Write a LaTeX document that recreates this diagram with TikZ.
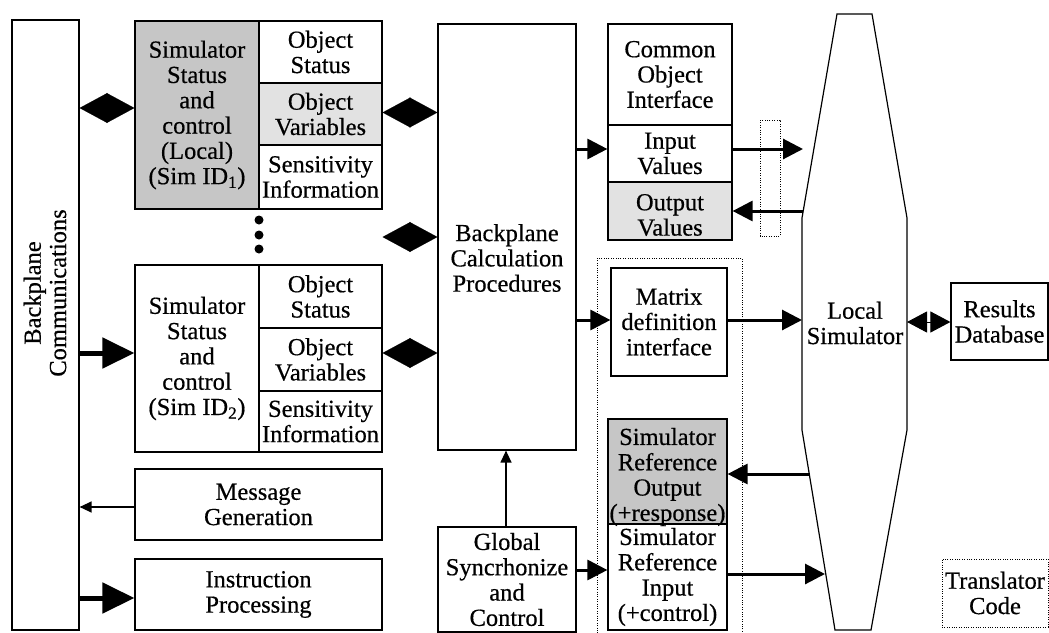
\documentclass[tikz,border=0pt]{standalone}
\usepackage{fontspec}
\setmainfont{Liberation Serif}[FakeBold=0.5]
\usetikzlibrary{arrows.meta}
\newcommand\diagfont{\fontsize{24.5pt}{25.3pt}\selectfont}
\definecolor{shadeA}{HTML}{C6C6C6}
\definecolor{shadeB}{HTML}{E2E2E2}
\begin{document}
\begin{tikzpicture}[x=1pt,y=-1pt,
  box/.style={draw,line width=1.2pt,inner sep=0pt,align=center,font=\diagfont},
  txt/.style={inner sep=0pt,align=center,font=\diagfont},
  dotbox/.style={draw,line width=0.8pt,dash pattern=on 1pt off 1.4pt},
  bigarrow/.style={line width=5pt,-{Triangle[length=32pt,width=30pt]}},
  medarrow/.style={line width=3pt,-{Triangle[length=20pt,width=20pt]}},
  thinarrow/.style={line width=1.3pt,-{Triangle[length=12pt,width=11pt]}},
  diam/.style={line width=0.1pt,{Triangle[length=27.8pt,width=30pt]}-{Triangle[length=27.8pt,width=30pt]}},
  smalldiam/.style={line width=1pt,{Triangle[length=20pt,width=21pt]}-{Triangle[length=20pt,width=21pt]}}]
\useasboundingbox (0,0) rectangle (1049,632);

% Backplane communications bus
\node[box,minimum width=67pt,minimum height=610pt] (bpcom) at (45.5,325) {};
\node[txt,rotate=90] (bpcomtxt) at (45,293) {Backplane\\Communications};

% Simulator 1
\node[box,fill=shadeA,minimum width=124pt,minimum height=188pt] (s1ctl) at (197,115)
  {Simulator\\Status\\and\\control\\(Local)\\(Sim ID\textsubscript{1})};
\node[box,minimum width=123pt,minimum height=62pt] (s1st) at (320.5,52) {Object\\Status};
\node[box,fill=shadeB,minimum width=123pt,minimum height=62pt] (s1var) at (320.5,114) {Object\\Variables};
\node[box,minimum width=123pt,minimum height=64pt] (s1sen) at (320.5,177) {Sensitivity\\Information};

% ellipsis between simulators
\foreach \yy in {220,235,249} \fill (259,\yy) circle (4.5pt);

% Simulator 2
\node[box,minimum width=124pt,minimum height=187pt] (s2ctl) at (197,358.5)
  {Simulator\\Status\\and\\control\\(Sim ID\textsubscript{2})};
\node[box,minimum width=123pt,minimum height=63pt] (s2st) at (320.5,296.5) {Object\\Status};
\node[box,minimum width=123pt,minimum height=63pt] (s2var) at (320.5,359.5) {Object\\Variables};
\node[box,minimum width=123pt,minimum height=61pt] (s2sen) at (320.5,421.5) {Sensitivity\\Information};

% Message and instruction handling
\node[box,minimum width=247pt,minimum height=71pt] (msg) at (258.5,504.5) {Message\\Generation};
\node[box,minimum width=247pt,minimum height=71pt] (instr) at (258.5,594.5) {Instruction\\Processing};

% Backplane calculation
\node[box,minimum width=138pt,minimum height=426pt] (bcp) at (507,237) {};
\node[txt] (bcptxt) at (507,258) {Backplane\\Calculation\\Procedures};
\node[box,minimum width=138pt,minimum height=105pt] (glob) at (507,579.5) {Global\\Syncrhonize\\and\\Control};

% Common object interface
\node[box,minimum width=124pt,minimum height=101pt] (coi) at (670,74.5) {Common\\Object\\Interface};
\node[box,minimum width=124pt,minimum height=57pt] (inval) at (670,153.5) {Input\\Values};
\node[box,fill=shadeB,minimum width=124pt,minimum height=58pt] (outval) at (670,211) {};
\node[txt] (outvaltxt) at (670,215) {Output\\Values};
\draw[dotbox] (760,120) rectangle (780,236);

% Matrix / reference interfaces
\draw[dotbox] (597,258) rectangle (742,640);
\node[box,minimum width=116pt,minimum height=108pt] (matrix) at (669,322) {Matrix\\definition\\interface};
\node[box,fill=shadeA,minimum width=119pt,minimum height=105pt] (sro) at (667.5,471.5) {};
\node[txt] (srotxt) at (667.5,477) {Simulator\\Reference\\Output\\(+response)};
\node[box,minimum width=119pt,minimum height=106pt] (sri) at (667.5,577) {Simulator\\Reference\\Input\\(+control)};

% Local simulator
\draw[line width=1.2pt] (837,14) -- (872,14) -- (907,218) -- (907,430) -- (871,630)
  -- (835,630) -- (802,430) -- (802,218) -- cycle;
\node[txt] (lsim) at (855,323) {Local\\Simulator};
\coordinate (lsIn) at (803,149);
\coordinate (lsOut) at (803,211);
\coordinate (lsMat) at (802,320);
\coordinate (lsRefOut) at (809,474);
\coordinate (lsRefIn) at (825,574);
\coordinate (lsEast) at (907,322);

% Results and translator
\node[box,minimum width=97pt,minimum height=77pt] (res) at (999.5,321.5) {Results\\Database};
\node[box,dotbox,minimum width=106pt,minimum height=68pt] (trans) at (995,593) {Translator\\Code};

% Bidirectional links
\draw[diam] (bpcom.east |- 0,108) -- (s1ctl.west |- 0,108);
\draw[diam] (s1var.east |- 0,112.5) -- (bcp.west |- 0,112.5);
\draw[diam] (s1sen.east |- 0,237) -- (bcp.west |- 0,237);
\draw[diam] (s2var.east |- 0,353) -- (bcp.west |- 0,353);
\draw[smalldiam] (lsEast) -- (res.west |- lsEast);

% Directed links
\draw[bigarrow] (bpcom.east |- 0,353) -- (s2ctl.west |- 0,353);
\draw[thinarrow] (msg.west |- 0,507) -- (bpcom.east |- 0,507);
\draw[bigarrow] (bpcom.east |- 0,598) -- (instr.west |- 0,598);
\draw[medarrow] (bcp.east |- 0,149) -- (inval.west |- 0,149);
\draw[medarrow] (inval.east |- lsIn) -- (lsIn);
\draw[medarrow] (lsOut) -- (outval.east |- lsOut);
\draw[medarrow] (bcp.east |- lsMat) -- (matrix.west |- lsMat);
\draw[medarrow] (matrix.east |- lsMat) -- (lsMat);
\draw[medarrow] (lsRefOut) -- (sro.east |- lsRefOut);
\draw[medarrow] (glob.east |- 0,570) -- (sri.west |- 0,570);
\draw[medarrow] (sri.east |- lsRefIn) -- (lsRefIn);
\draw[thinarrow] (glob.north -| 506,0) -- (bcp.south -| 506,0);
\end{tikzpicture}
\end{document}
